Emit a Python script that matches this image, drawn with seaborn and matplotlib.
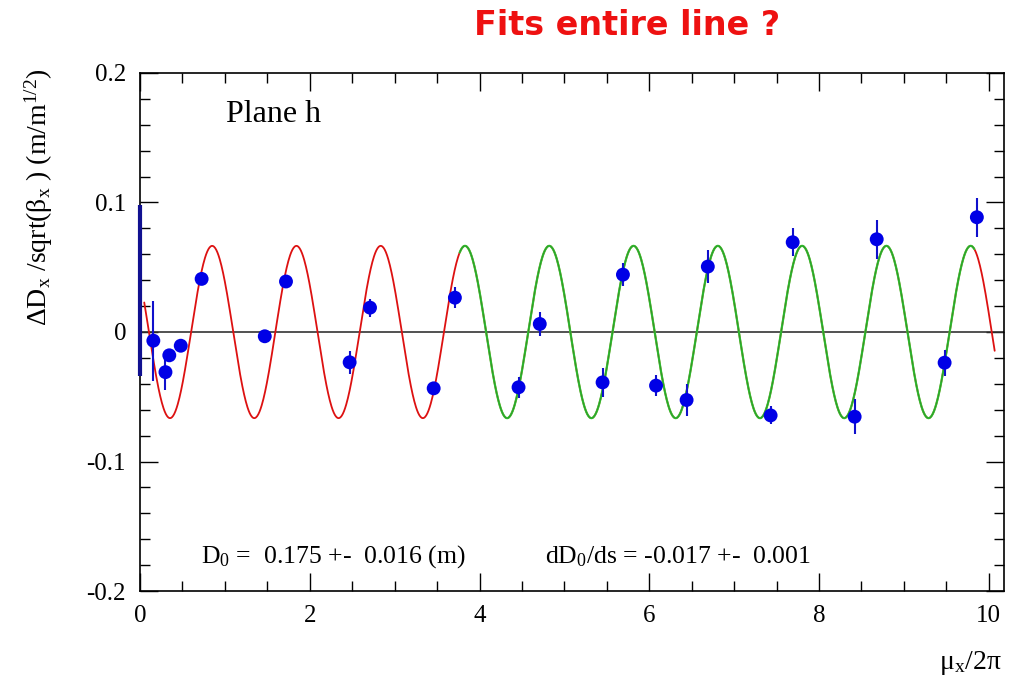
import numpy as np
import pandas as pd
import matplotlib
matplotlib.use("Agg")
import matplotlib.pyplot as plt
from matplotlib.ticker import MultipleLocator
import seaborn as sns

# ==========================================
# Data
# ==========================================
mu_x = [0.157, 0.30, 0.345, 0.48, 0.726, 1.47, 1.72, 2.47, 2.71, 3.46, 3.71,
        4.46, 4.71, 5.45, 5.69, 6.08, 6.44, 6.69,
        7.43, 7.69, 8.42, 8.68, 9.48, 9.86]
delta_d = [-0.0067, -0.031, -0.018, -0.0106, 0.041, -0.0033, 0.039, -0.0234,
           0.0188, -0.0435, 0.0265, -0.0427, 0.0062, -0.0389, 0.0443, -0.0414,
           -0.0525, 0.0505, -0.0644, 0.0693, -0.0654, 0.0716, -0.0237, 0.0886]
delta_err = [0.031, 0.014, 0.005, 0.004, 0.004, 0.003, 0.004, 0.009,
             0.007, 0.004, 0.008, 0.008, 0.0095, 0.011, 0.009, 0.008,
             0.012, 0.013, 0.007, 0.011, 0.0135, 0.015, 0.010, 0.015]

# clipped point at the left edge (only its error bar shows)
edge_x = [0.0]
edge_y = [0.032]
edge_err = [0.066]

# fitted sine parameters
fit_amplitude = 0.0665
fit_period = 0.993
fit_peak = 0.85
fit_range = (0.05, 10.07)
green_range = (3.76, 9.83)

x_ticks = [0, 2, 4, 6, 8, 10]
y_ticks = [-0.2, -0.1, 0, 0.1, 0.2]
y_tick_labels = ["-0.2", "-0.1", "0", "0.1", "0.2"]

points = pd.DataFrame({"mu": mu_x, "dd": delta_d, "err": delta_err})

fit_x = np.linspace(fit_range[0], fit_range[1], 1500)
fit = pd.DataFrame({
    "mu": fit_x,
    "dd": fit_amplitude * np.cos(2 * np.pi * (fit_x - fit_peak) / fit_period),
})
green = fit[(fit["mu"] >= green_range[0]) & (fit["mu"] <= green_range[1])]

# ==========================================
# Plot
# ==========================================
sns.set_theme(style="ticks")
plt.rcParams["font.family"] = ["Liberation Serif", "DejaVu Serif"]
plt.rcParams["mathtext.fontset"] = "custom"
plt.rcParams["mathtext.rm"] = "Liberation Serif"
plt.rcParams["mathtext.it"] = "Liberation Serif:italic"
plt.rcParams["text.color"] = "black"

fig = plt.figure(figsize=(10.19, 6.82), dpi=100)
ax = fig.add_axes([0.1374, 0.1334, 0.8479, 0.7596])

ax.axhline(0, color="#333333", lw=1.2, zorder=1)

sns.lineplot(data=fit, x="mu", y="dd", color="#dd1111", lw=1.3,
             ax=ax, zorder=2, estimator=None, sort=False)
sns.lineplot(data=green, x="mu", y="dd", color="#33d033", lw=1.6,
             ax=ax, zorder=3, estimator=None, sort=False)
sns.lineplot(data=green, x="mu", y="dd", color="#224422", lw=0.6,
             ax=ax, zorder=3, estimator=None, sort=False, alpha=0.45)

ax.errorbar(points["mu"], points["dd"], yerr=points["err"], fmt="none",
            ecolor="#1010cc", elinewidth=1.5, zorder=4)
ax.errorbar(edge_x, edge_y, yerr=edge_err, fmt="none",
            ecolor="#101090", elinewidth=3, zorder=5, clip_on=False)
sns.scatterplot(data=points, x="mu", y="dd", color="#0000e6", s=100,
                edgecolor="none", ax=ax, zorder=5)

ax.set_xlim(0, 10.18)
ax.set_ylim(-0.2, 0.2)
ax.set_xticks(x_ticks)
ax.set_xticklabels([str(t) for t in x_ticks])
ax.set_yticks(y_ticks)
ax.set_yticklabels(y_tick_labels)
ax.xaxis.set_minor_locator(MultipleLocator(0.5))
ax.yaxis.set_minor_locator(MultipleLocator(0.02))
ax.tick_params(which="both", direction="in", top=True, right=True,
               labelsize=18, colors="black", width=1)
ax.tick_params(which="major", length=13, pad=10)
ax.tick_params(which="minor", length=7)
for spine in ax.spines.values():
    spine.set_linewidth(1.2)
    spine.set_color("black")

# ROOT style titles: aligned to the far end of each axis
ax.set_xlabel("")
ax.set_ylabel("")
fig.text(0.983, 0.028, "μ$_\\mathrm{x}$/2π", ha="right", va="center",
         fontsize=20)
fig.text(0.038, 0.900,
         "ΔD$_\\mathrm{x}$ /sqrt(β$_\\mathrm{x}$ ) (m/m$^\\mathrm{1/2}$)",
         rotation=90, ha="center", va="top", fontsize=20)

ax.text(0.1, 0.919, "Plane h", transform=ax.transAxes, fontsize=23,
        ha="left", va="center")
ax.text(0.071, 0.054, "D$_\\mathrm{0}$ =  0.175 +-  0.016 (m)",
        transform=ax.transAxes, fontsize=18.5, ha="left", va="baseline")
ax.text(0.469, 0.054, "dD$_\\mathrm{0}$/ds = -0.017 +-  0.001",
        transform=ax.transAxes, fontsize=18.5, ha="left", va="baseline")

fig.text(0.615, 0.963, "Fits entire line ?", color="#ee1111", fontsize=24,
         fontweight="bold", ha="center", va="center",
         family=["DejaVu Sans"])

fig.savefig("out.png", dpi=100)
plt.close(fig)
